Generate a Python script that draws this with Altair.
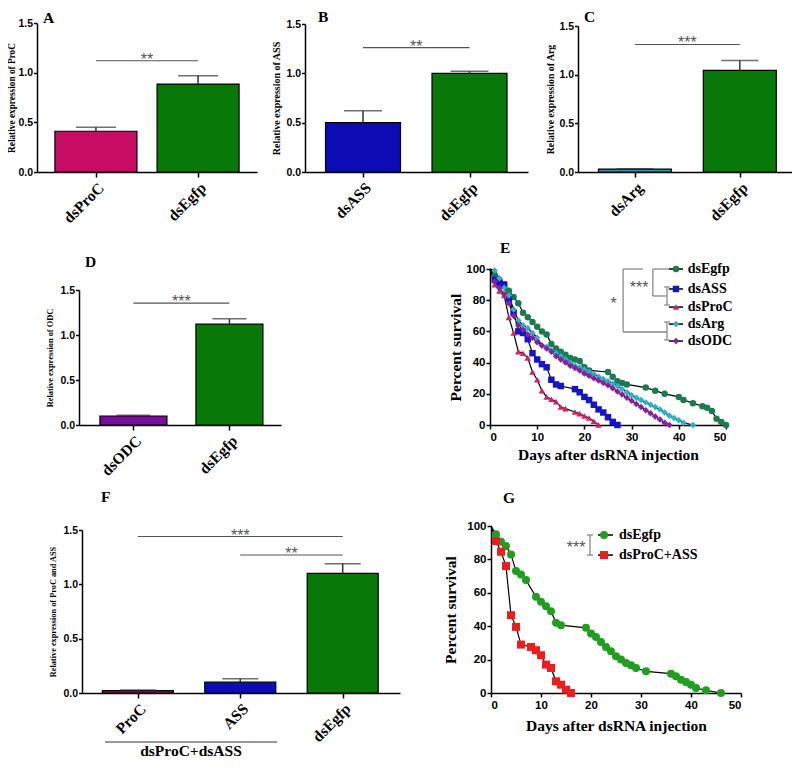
import altair as alt
import pandas as pd

SERIF = "Liberation Serif"
SANS = "Liberation Sans"

# ---------------- bar panel data ----------------
A_cats = ["dsProC", "dsEgfp"]
A_mean = [0.41, 0.885]
A_err = [0.04, 0.085]
A_colors = ["#c80c64", "#087808"]
A_sig = [("dsProC", "dsEgfp", 1.12, "**")]

B_cats = ["dsASS", "dsEgfp"]
B_mean = [0.50, 1.00]
B_err = [0.12, 0.02]
B_colors = ["#0c0cb4", "#087808"]
B_sig = [("dsASS", "dsEgfp", 1.26, "**")]

C_cats = ["dsArg", "dsEgfp"]
C_mean = [0.03, 1.045]
C_err = [0.004, 0.10]
C_colors = ["#2f95b0", "#087808"]
C_sig = [("dsArg", "dsEgfp", 1.31, "***")]

D_cats = ["dsODC", "dsEgfp"]
D_mean = [0.10, 1.12]
D_err = [0.008, 0.06]
D_colors = ["#7a0e9c", "#087808"]
D_sig = [("dsODC", "dsEgfp", 1.355, "***")]

F_cats = ["ProC", "ASS", "dsEgfp"]
F_mean = [0.022, 0.10, 1.10]
F_err = [0.005, 0.03, 0.09]
F_colors = ["#8c1848", "#0c0cb8", "#087808"]
F_sig = [("ProC", "dsEgfp", 1.44, "***"), ("ASS", "dsEgfp", 1.27, "**")]
F_group = "dsProC+dsASS"

# ---------------- survival data (E) ----------------
E_egfp_day = [0, 1, 2, 3, 4, 5, 6, 7, 8, 9, 10, 11, 12, 13, 14, 15, 16, 17, 18, 19, 20, 21,
              25, 26, 27, 28, 29, 33, 35, 37, 40, 41, 43, 45, 46, 47, 48, 49, 50]
E_egfp_pct = [100, 96, 93, 90, 86, 82, 78, 72, 69, 66, 63, 60, 58, 52, 49, 47, 45, 43, 42, 41, 37, 35,
              34, 31, 28, 27, 26, 24, 22, 20, 18, 16, 14, 12, 11, 9, 4, 2, 0]

E_ass_day = [0, 1, 2, 3, 4, 5, 6, 7, 8, 9, 10, 11, 12, 13, 14, 15, 18, 19, 20, 21, 22, 23, 24, 25, 26, 27]
E_ass_pct = [100, 93, 91, 90, 81, 72, 60, 59, 55, 46, 42, 39, 37, 29, 26, 25, 23, 21, 18, 16, 13, 10, 8, 5, 2, 0]

E_proc_day = [0, 1, 2, 3, 4, 5, 6, 7, 8, 9, 10, 11, 12, 13, 14, 15, 16, 18, 19, 20, 21, 22, 23]
E_proc_pct = [100, 90, 86, 83, 69, 59, 47, 46, 43, 34, 29, 22, 18, 16.5, 15, 11.5, 10.5, 8.3, 7.3, 5.8, 4.5, 2.4, 0]

E_arg_day = [0, 1, 2, 3, 4, 5, 6, 7, 8, 9, 10, 11, 12, 13, 14, 15, 16, 17, 18, 19, 20, 21, 22, 23, 24,
             25, 26, 27, 28, 29, 30, 31, 32, 33, 34, 35, 36, 37, 38, 39, 40, 41, 43]
E_arg_pct = [100, 99, 94, 88, 83, 74, 67, 64, 62, 59, 56, 51, 50, 48, 46, 44, 42, 40, 38, 37, 35.5, 34, 32.5,
             31, 29.5, 28, 26.5, 25, 23, 21, 19, 17.5, 16, 14.5, 13, 11.5, 10, 8, 6, 4.5, 3, 1.5, 0]

E_odc_day = [0, 1, 2, 3, 4, 5, 6, 7, 8, 9, 10, 11, 12, 13, 14, 15, 16, 17, 18, 19, 20, 21, 22, 23, 24,
             25, 26, 27, 28, 29, 30, 31, 32, 33, 34, 35, 36, 37, 38]
E_odc_pct = [100, 92, 88, 84, 78, 70, 64, 61, 58, 56, 53, 51, 49, 47, 44, 42, 40, 38, 36.5, 35, 33, 31.5,
             30, 28.5, 27, 25.5, 23.5, 21.5, 19.5, 17.5, 15.5, 13.5, 11.5, 9.5, 7.5, 5.5, 3.5, 1.5, 0]

E_names = ["dsEgfp", "dsASS", "dsProC", "dsArg", "dsODC"]
E_colors = ["#1b7a50", "#1414c8", "#cc2266", "#2fb0c4", "#8a1fa4"]
E_shapes = ["circle", "square", "triangle-up", "diamond", "diamond"]

# ---------------- survival data (G) ----------------
G_egfp_day = [0, 1, 2, 3, 4, 5, 6, 7, 9, 10, 11, 12, 13, 14, 19, 20, 21, 22, 23, 24, 25, 26, 27, 28, 29,
              31, 36, 37, 38, 39, 40, 41, 43, 46]
G_egfp_pct = [100, 95, 90.6, 88, 83, 73, 71, 67.6, 57.6, 54.6, 52, 49, 42, 40.6, 39, 35.6, 33.6, 30.6,
              27.6, 25, 22, 20, 18, 16.6, 15, 13, 11.6, 10, 8, 6.6, 5, 3, 1.6, 0]
G_mix_day = [0, 1, 2, 3, 4, 5, 6, 8, 9, 10, 11, 12, 13, 14, 15, 16]
G_mix_pct = [100, 91, 84.6, 76, 46.6, 39.6, 29, 27.6, 25.6, 22.6, 17, 15, 7, 5, 2, 0]

G_names = ["dsEgfp", "dsProC+ASS"]
G_colors = ["#1f9e1f", "#ee1c1c"]
G_shapes = ["circle", "square"]

# ---------------- annotation geometry (data coords) ----------------
E_leg_y = [100, 87.2, 75.6, 64.7, 53.8]
E_leg_line = (37.9, 40.9)
E_leg_mark = 39.4
E_leg_text = 41.9
E_brackets = [
    (28.2, 100, 32.4, 100), (28.2, 100, 28.2, 59.6), (28.2, 59.6, 37.5, 59.6),
    (34.5, 100, 34.5, 82.7), (34.5, 100, 37.9, 100), (34.5, 82.7, 37.5, 82.7),
    (37.5, 88.5, 37.5, 76.9), (36.9, 88.5, 38.1, 88.5), (36.9, 76.9, 38.1, 76.9),
    (37.5, 66.0, 37.5, 54.5), (36.9, 66.0, 38.1, 66.0), (36.9, 54.5, 38.1, 54.5),
]
E_texts = [(31.6, 90.4, "***", "center"), (26.2, 80.0, "*", "center")]

G_leg_y = [94.6, 82.6]
G_leg_line = (21.4, 24.4)
G_leg_mark = 22.6
G_leg_text = 25.6
G_brackets = [(19.8, 94.6, 19.8, 82.6), (19.2, 94.6, 20.4, 94.6), (19.2, 82.6, 20.4, 82.6)]
G_texts = [(18.9, 89.0, "***", "right")]

# ---------------- layout (pixels inside the figure) ----------------
FIG_W, FIG_H = 784, 752
BOX = {  # x0, y0 (top), x1, y1 (bottom) of each plot area
    "A": (29, 15, 249, 164),
    "B": (297, 16, 520, 164),
    "C": (570, 18, 784, 164),
    "D": (71, 282, 273, 417),
    "E": (482, 261, 718, 417),
    "F": (74, 522, 392, 685),
    "G": (483, 518, 733, 685),
}
LETTERS = [("A", 35, 15), ("B", 310, 14), ("C", 576, 14), ("D", 77, 259),
           ("E", 492, 245), ("F", 93, 494), ("G", 495, 495)]
GRP_LINE = (97, 269, 734)
GRP_TEXT = (183, 743)


def bar_panel(key, cats, means, errs, colors, sigs, ytitle, ytitle_size, c0, c1,
              bar_px, cap_px, ytitle_pad, extra=None):
    x0, y0, x1, y1 = BOX[key]
    W = x1 - x0
    n = len(cats)
    step = (c1 - c0) / (n - 1)
    lo = 0.5 - c0 / step
    hi = lo + W / step
    pos = [i + 0.5 for i in range(n)]
    df = pd.DataFrame({"cat": cats, "pos": pos, "mean": means,
                       "top": [m + e for m, e in zip(means, errs)]})
    label_expr = "[" + ",".join("'%s'" % c for c in cats) + "][floor(datum.value)]"
    xs = alt.Scale(domain=[lo, hi], range=[x0, x1], nice=False, zero=False)
    ys = alt.Scale(domain=[0, 1.5], range=[y1, y0], nice=False)
    xax = alt.Axis(orient="bottom", offset=y1 - FIG_H, values=pos, labelExpr=label_expr,
                   labelAngle=-45, labelFont=SERIF, labelFontSize=15.5, labelFontWeight="bold",
                   labelColor="black", labelPadding=3, tickSize=5, tickWidth=1.5, tickColor="black",
                   domainColor="black", domainWidth=1.5, grid=False, title=None, labelOverlap=False)
    yax = alt.Axis(orient="left", offset=-x0, values=[0, 0.5, 1.0, 1.5], format=".1f",
                   labelFont=SANS, labelFontSize=10.5, labelFontWeight="bold", labelColor="black",
                   labelPadding=1, tickSize=3.5, tickWidth=1.5, tickColor="black", domainColor="black",
                   domainWidth=1.5, grid=False, title=ytitle, titleFont=SERIF,
                   titleFontSize=ytitle_size, titleFontWeight="bold", titleColor="black",
                   titlePadding=ytitle_pad)
    bars = alt.Chart(df).mark_bar(orient="vertical", size=bar_px, stroke="black", strokeWidth=1.2).encode(
        x=alt.X("pos:Q", scale=xs, axis=xax),
        y=alt.Y("mean:Q", scale=ys, axis=yax, stack=None),
        color=alt.Color("cat:N", scale=alt.Scale(domain=cats, range=colors), legend=None),
    )
    err = alt.Chart(df).mark_rule(color="#333333", strokeWidth=1.5).encode(
        x=alt.X("pos:Q", title=None), y=alt.Y("top:Q", title=ytitle), y2="mean:Q")
    cap = alt.Chart(df).mark_tick(orient="horizontal", size=cap_px, thickness=1.5, color="#333333").encode(
        x=alt.X("pos:Q", title=None), y=alt.Y("top:Q", title=ytitle))
    idx = {c: i + 0.5 for i, c in enumerate(cats)}
    sdf = pd.DataFrame({
        "x1": [idx[s[0]] for s in sigs], "x2": [idx[s[1]] for s in sigs],
        "xm": [(idx[s[0]] + idx[s[1]]) / 2 for s in sigs],
        "lev": [s[2] for s in sigs], "lab": [s[3] for s in sigs]})
    srule = alt.Chart(sdf).mark_rule(color="#555555", strokeWidth=1.2).encode(
        x=alt.X("x1:Q", title=None), x2="x2:Q", y=alt.Y("lev:Q", title=ytitle))
    stext = alt.Chart(sdf).mark_text(font=SANS, fontSize=16, color="#555555", baseline="alphabetic", dy=4).encode(
        x=alt.X("xm:Q", title=None), y=alt.Y("lev:Q", title=ytitle), text="lab:N")
    layers = [bars, err, cap, srule, stext]
    if extra:
        layers += extra
    return alt.layer(*layers)


def surv_panel(key, series, names, colors, shapes, msize, leg_y, leg_line, leg_mark, leg_text,
               brackets, texts, ytpad, xtpad):
    x0, y0, x1, y1 = BOX[key]
    rows = []
    for name, days, pcts in series:
        for d, p in zip(days, pcts):
            rows.append({"name": name, "day": d, "pct": p})
    df = pd.DataFrame(rows)
    XT = "Days after dsRNA injection"
    YT = "Percent survival"
    xs = alt.Scale(domain=[0, 50], range=[x0, x1], nice=False)
    ys = alt.Scale(domain=[0, 100], range=[y1, y0], nice=False)
    common = dict(labelFont=SANS, labelFontSize=11.5, labelFontWeight="bold", labelColor="black",
                  tickSize=4, tickWidth=1.5, tickColor="black", domainColor="black", domainWidth=1.5,
                  grid=False, titleFont=SERIF, titleFontSize=15.5, titleFontWeight="bold",
                  titleColor="black")
    xax = alt.Axis(orient="bottom", offset=y1 - FIG_H, values=[0, 10, 20, 30, 40, 50],
                   labelPadding=2, titlePadding=xtpad, **common)
    yax = alt.Axis(orient="left", offset=-x0, values=[0, 20, 40, 60, 80, 100],
                   labelPadding=1, titlePadding=ytpad, **common)
    cscale = alt.Scale(domain=names, range=colors)
    shscale = alt.Scale(domain=names, range=shapes)
    line = alt.Chart(df).mark_line(color="black", strokeWidth=1.2).encode(
        x=alt.X("day:Q", scale=xs, axis=xax, title=XT),
        y=alt.Y("pct:Q", scale=ys, axis=yax, title=YT),
        detail="name:N", order="day:Q")
    pts = alt.Chart(df).transform_filter("datum.day > 0").mark_point(
        filled=True, opacity=1, size=msize, strokeWidth=0).encode(
        x=alt.X("day:Q", title=XT), y=alt.Y("pct:Q", title=YT),
        color=alt.Color("name:N", scale=cscale, legend=None),
        shape=alt.Shape("name:N", scale=shscale, legend=None))
    ldf = pd.DataFrame({"name": names, "pct": leg_y, "day": [leg_mark] * len(names),
                        "l1": [leg_line[0]] * len(names), "l2": [leg_line[1]] * len(names),
                        "tx": [leg_text] * len(names)})
    lrule = alt.Chart(ldf).mark_rule(color="black", strokeWidth=1.5).encode(
        x=alt.X("l1:Q", title=XT), x2="l2:Q", y=alt.Y("pct:Q", title=YT))
    lpts = alt.Chart(ldf).mark_point(filled=True, opacity=1, size=msize, strokeWidth=0).encode(
        x=alt.X("day:Q", title=XT), y=alt.Y("pct:Q", title=YT),
        color=alt.Color("name:N", scale=cscale, legend=None),
        shape=alt.Shape("name:N", scale=shscale, legend=None))
    ltext = alt.Chart(ldf).mark_text(font=SERIF, fontSize=14, fontWeight="bold", color="black",
                                     align="left", baseline="middle").encode(
        x=alt.X("tx:Q", title=XT), y=alt.Y("pct:Q", title=YT), text="name:N")
    bdf = pd.DataFrame({"x1": [b[0] for b in brackets], "y1": [b[1] for b in brackets],
                        "x2": [b[2] for b in brackets], "y2": [b[3] for b in brackets]})
    brule = alt.Chart(bdf).mark_rule(color="#8a8a8a", strokeWidth=1.3).encode(
        x=alt.X("x1:Q", title=XT), x2="x2:Q", y=alt.Y("y1:Q", title=YT), y2="y2:Q")
    layers = [line, pts, lrule, lpts, ltext, brule]
    for tx, ty, lab, al in texts:
        tdf = pd.DataFrame({"x": [tx], "y": [ty], "t": [lab]})
        layers.append(alt.Chart(tdf).mark_text(font=SANS, fontSize=16, color="#555555", align=al,
                                               baseline="alphabetic", dy=9).encode(
            x=alt.X("x:Q", title=XT), y=alt.Y("y:Q", title=YT), text="t:N"))
    return alt.layer(*layers)


# ---------------- panels ----------------
pA = bar_panel("A", A_cats, A_mean, A_err, A_colors, A_sig, "Relative expression of ProC", 9.3,
               56.5, 163.5, 82, 40, 1)
pB = bar_panel("B", B_cats, B_mean, B_err, B_colors, B_sig, "Relative expression of ASS", 10,
               55.5, 167, 75, 38, 4)
pC = bar_panel("C", C_cats, C_mean, C_err, C_colors, C_sig, "Relative expression of Arg", 9.8,
               54.5, 164.5, 73, 37, 3)
pD = bar_panel("D", D_cats, D_mean, D_err, D_colors, D_sig, "Relative expression of ODC", 8.4,
               52, 153, 67, 34, 5)

grp_line = alt.Chart(pd.DataFrame({"a": [0]})).mark_rule(color="#333333", strokeWidth=1.2).encode(
    x=alt.value(GRP_LINE[0]), x2=alt.value(GRP_LINE[1]), y=alt.value(GRP_LINE[2]))
grp_text = alt.Chart(pd.DataFrame({"t": [F_group]})).mark_text(
    font=SERIF, fontSize=15.5, fontWeight="bold", color="black", baseline="middle").encode(
    x=alt.value(GRP_TEXT[0]), y=alt.value(GRP_TEXT[1]), text="t:N")
pF = bar_panel("F", F_cats, F_mean, F_err, F_colors, F_sig, "Relative expression of ProC and ASS", 8.3,
               52.5, 264, 71, 36, 5, extra=[grp_line, grp_text])

pE = surv_panel("E", [("dsEgfp", E_egfp_day, E_egfp_pct), ("dsASS", E_ass_day, E_ass_pct),
                      ("dsProC", E_proc_day, E_proc_pct), ("dsArg", E_arg_day, E_arg_pct),
                      ("dsODC", E_odc_day, E_odc_pct)],
                E_names, E_colors, E_shapes, 42, E_leg_y, E_leg_line, E_leg_mark,
                E_leg_text, E_brackets, E_texts, 2, 5)
pG = surv_panel("G", [("dsEgfp", G_egfp_day, G_egfp_pct), ("dsProC+ASS", G_mix_day, G_mix_pct)],
                G_names, G_colors, G_shapes, 64, G_leg_y, G_leg_line, G_leg_mark,
                G_leg_text, G_brackets, G_texts, 8, 8)

letter_layers = [
    alt.Chart(pd.DataFrame({"t": [t]})).mark_text(
        font=SERIF, fontSize=15.5, fontWeight="bold", color="black", align="left",
        baseline="alphabetic").encode(x=alt.value(px), y=alt.value(py), text="t:N")
    for t, px, py in LETTERS
]

chart = alt.layer(pA, pB, pC, pD, pE, pF, pG, *letter_layers).resolve_scale(
    x="independent", y="independent", color="independent", shape="independent"
).properties(
    width=FIG_W, height=FIG_H, padding=0, background="white",
    autosize=alt.AutoSizeParams(type="none"),
).configure_view(stroke="transparent", strokeWidth=0)

chart.save("out.html", embed_options={"renderer": "svg", "actions": False})
